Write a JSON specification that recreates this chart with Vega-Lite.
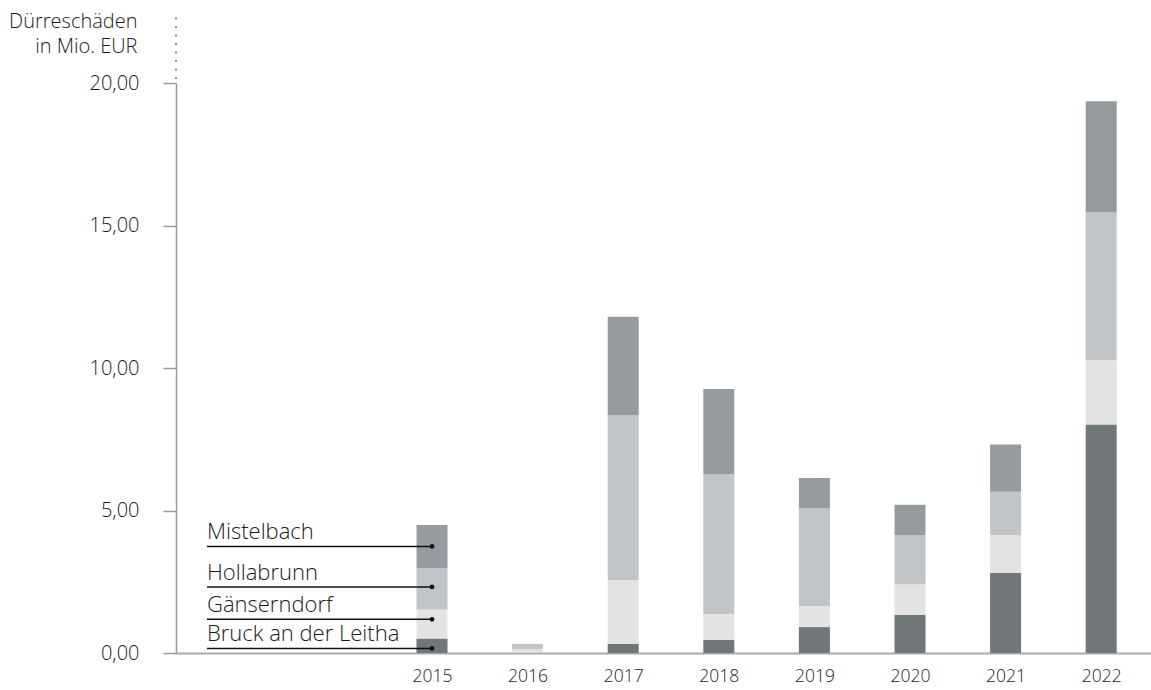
{
  "$schema": "https://vega.github.io/schema/vega-lite/v6.json",
  "width": 975,
  "height": 570,
  "autosize": {"type": "none"},
  "padding": {"left": 176, "top": 83, "right": 0, "bottom": 37},
  "background": "white",
  "config": {
    "view": {"stroke": null},
    "font": "Open Sans",
    "text": {"font": "Open Sans"}
  },
  "datasets": {
    "damage": [
      {"year": 2015, "district": "Bruck an der Leitha", "value": 0.51},
      {"year": 2015, "district": "Gänserndorf", "value": 1.02},
      {"year": 2015, "district": "Hollabrunn", "value": 1.44},
      {"year": 2015, "district": "Mistelbach", "value": 1.52},
      {"year": 2016, "district": "Bruck an der Leitha", "value": 0.01},
      {"year": 2016, "district": "Gänserndorf", "value": 0.13},
      {"year": 2016, "district": "Hollabrunn", "value": 0.18},
      {"year": 2016, "district": "Mistelbach", "value": 0.0},
      {"year": 2017, "district": "Bruck an der Leitha", "value": 0.32},
      {"year": 2017, "district": "Gänserndorf", "value": 2.24},
      {"year": 2017, "district": "Hollabrunn", "value": 5.79},
      {"year": 2017, "district": "Mistelbach", "value": 3.45},
      {"year": 2018, "district": "Bruck an der Leitha", "value": 0.46},
      {"year": 2018, "district": "Gänserndorf", "value": 0.91},
      {"year": 2018, "district": "Hollabrunn", "value": 4.91},
      {"year": 2018, "district": "Mistelbach", "value": 2.98},
      {"year": 2019, "district": "Bruck an der Leitha", "value": 0.91},
      {"year": 2019, "district": "Gänserndorf", "value": 0.74},
      {"year": 2019, "district": "Hollabrunn", "value": 3.44},
      {"year": 2019, "district": "Mistelbach", "value": 1.05},
      {"year": 2020, "district": "Bruck an der Leitha", "value": 1.34},
      {"year": 2020, "district": "Gänserndorf", "value": 1.06},
      {"year": 2020, "district": "Hollabrunn", "value": 1.74},
      {"year": 2020, "district": "Mistelbach", "value": 1.06},
      {"year": 2021, "district": "Bruck an der Leitha", "value": 2.81},
      {"year": 2021, "district": "Gänserndorf", "value": 1.33},
      {"year": 2021, "district": "Hollabrunn", "value": 1.52},
      {"year": 2021, "district": "Mistelbach", "value": 1.66},
      {"year": 2022, "district": "Bruck an der Leitha", "value": 8.02},
      {"year": 2022, "district": "Gänserndorf", "value": 2.25},
      {"year": 2022, "district": "Hollabrunn", "value": 5.19},
      {"year": 2022, "district": "Mistelbach", "value": 3.9}
    ],
    "labels": [
      {"label": "Mistelbach", "pos": 3.74, "x0": 2012.646, "x1": 2015},
      {"label": "Hollabrunn", "pos": 2.32, "x0": 2012.646, "x1": 2015},
      {"label": "Gänserndorf", "pos": 1.18, "x0": 2012.646, "x1": 2015},
      {"label": "Bruck an der Leitha", "pos": 0.16, "x0": 2012.646, "x1": 2015}
    ],
    "axisext": [
      {"xa": 2012.322, "ya": 20.14, "yb": 22.53}
    ]
  },
  "layer": [
    {
      "data": {"name": "damage"},
      "mark": {"type": "bar", "width": 31},
      "encoding": {
        "x": {
          "field": "year", "type": "quantitative",
          "scale": {"domain": [2012.322, 2022.521], "nice": false, "zero": false, "padding": 0},
          "axis": {
            "title": null,
            "values": [2015, 2016, 2017, 2018, 2019, 2020, 2021, 2022],
            "format": "d",
            "ticks": false,
            "grid": false,
            "labelFontSize": 17.5,
            "labelColor": "#1a1a1a",
            "labelPadding": 14,
            "labelFont": "Open Sans",
            "labelFontWeight": 300,
            "domainColor": "#aaaaaa",
            "domainWidth": 2
          }
        },
        "y": {
          "field": "value", "type": "quantitative",
          "stack": "zero",
          "scale": {"domain": [0, 20], "nice": false, "padding": 0},
          "axis": {
            "title": ["Dürreschäden", "in Mio. EUR"],
            "titleAngle": 0,
            "titleAlign": "right",
            "titleBaseline": "alphabetic",
            "titleX": -39,
            "titleY": -56,
            "titleLineHeight": 25,
            "titleFontSize": 20,
            "titleFontWeight": 300,
            "titleColor": "#1a1a1a",
            "titleFont": "Open Sans",
            "values": [0, 5, 10, 15, 20],
            "labelExpr": "replace(format(datum.value, '.2f'), '.', ',')",
            "labelFontSize": 20,
            "labelFont": "Open Sans",
            "labelFontWeight": 300,
            "labelColor": "#1a1a1a",
            "labelPadding": 24,
            "tickSize": 13,
            "tickColor": "#999999",
            "tickWidth": 1.5,
            "domainColor": "#999999",
            "domainWidth": 1.5,
            "grid": false
          }
        },
        "color": {
          "field": "district", "type": "nominal",
          "scale": {
            "domain": ["Bruck an der Leitha", "Gänserndorf", "Hollabrunn", "Mistelbach"],
            "range": ["#717679", "#e3e3e3", "#c1c5c8", "#969b9e"]
          },
          "legend": null
        },
        "order": {"field": "district", "sort": "ascending"}
      }
    },
    {
      "data": {"name": "labels"},
      "mark": {"type": "rule", "color": "#111", "strokeWidth": 1.5},
      "encoding": {
        "x": {"field": "x0", "type": "quantitative"},
        "x2": {"field": "x1"},
        "y": {"field": "pos", "type": "quantitative"}
      }
    },
    {
      "data": {"name": "labels"},
      "mark": {"type": "point", "filled": true, "color": "#111", "size": 22, "opacity": 1},
      "encoding": {
        "x": {"field": "x1", "type": "quantitative"},
        "y": {"field": "pos", "type": "quantitative"}
      }
    },
    {
      "data": {"name": "labels"},
      "mark": {"type": "text", "align": "left", "baseline": "alphabetic", "dy": -7, "fontSize": 22, "fontWeight": 300, "color": "#1a1a1a", "font": "Open Sans"},
      "encoding": {
        "x": {"field": "x0", "type": "quantitative"},
        "y": {"field": "pos", "type": "quantitative"},
        "text": {"field": "label"}
      }
    },
    {
      "data": {"name": "axisext"},
      "mark": {"type": "rule", "color": "#888", "strokeWidth": 2, "strokeDash": [2, 6.5], "clip": false},
      "encoding": {
        "x": {"field": "xa", "type": "quantitative"},
        "y": {"field": "ya", "type": "quantitative"},
        "y2": {"field": "yb"}
      }
    }
  ]
}
